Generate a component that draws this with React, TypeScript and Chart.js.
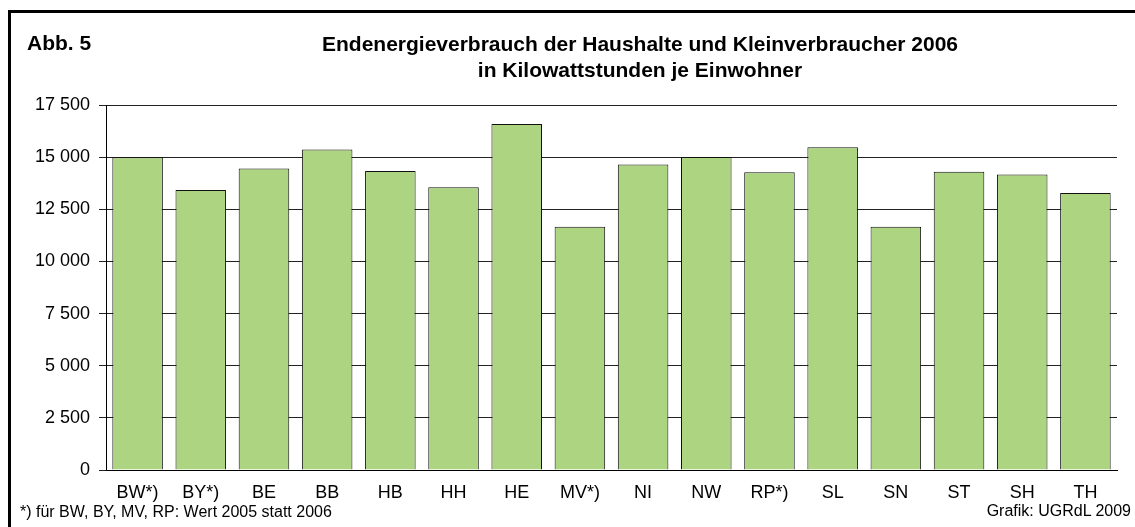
import React, { useEffect, useRef } from "react";
import { Chart, registerables } from "chart.js";

Chart.register(...registerables);

const categories = ["BW*)", "BY*)", "BE", "BB", "HB", "HH", "HE", "MV*)", "NI", "NW", "RP*)", "SL", "SN", "ST", "SH", "TH"];
const values = [15000, 13420, 14450, 15370, 14330, 13560, 16590, 11660, 14650, 15010, 14270, 15480, 11660, 14300, 14170, 13280];
const yTicks = [0, 2500, 5000, 7500, 10000, 12500, 15000, 17500];

const titleLine1 = "Endenergieverbrauch der Haushalte und Kleinverbraucher 2006";
const titleLine2 = "in Kilowattstunden je Einwohner";
const figLabel = "Abb. 5";
const footnote = "*) für BW, BY, MV, RP: Wert 2005 statt 2006";
const source = "Grafik: UGRdL 2009";

function fmt(n: number): string {
  if (n < 1000) return String(n);
  const th = Math.floor(n / 1000);
  const rest = String(n % 1000).padStart(3, "0");
  return th + " " + rest;
}

export default function App() {
  const ref = useRef<HTMLCanvasElement | null>(null);
  useEffect(() => {
    document.body.style.margin = "0";
    const canvas = ref.current;
    if (!canvas) return;
    const family = "Arial, 'Liberation Sans', sans-serif";
    const chart = new Chart(canvas, {
      type: "bar",
      data: {
        labels: categories,
        datasets: [
          {
            data: values,
            backgroundColor: "#add480",
            borderColor: "#111",
            borderWidth: 1,
            barPercentage: 0.8,
            categoryPercentage: 1,
          },
        ],
      },
      options: {
        responsive: false,
        animation: false,
        devicePixelRatio: 1,
        layout: { padding: { top: 105, right: 18, left: 0, bottom: 0 } },
        plugins: { legend: { display: false }, tooltip: { enabled: false }, title: { display: false } },
        scales: {
          y: {
            min: 0,
            max: 17500,
            afterBuildTicks: (scale: any) => {
              scale.ticks = yTicks.map((v) => ({ value: v }));
            },
            afterFit: (scale: any) => {
              scale.width = 106;
            },
            ticks: { color: "#000", font: { family, size: 18 }, padding: 9, callback: (v: any) => fmt(Number(v)) },
            grid: { color: "#222", lineWidth: 1, tickLength: 7, drawTicks: true },
            border: { display: true, color: "#000", width: 1 },
          },
          x: {
            afterFit: (scale: any) => {
              scale.height = 57;
            },
            ticks: { color: "#000", font: { family, size: 18 }, padding: 4, maxRotation: 0, autoSkip: false },
            grid: { display: false },
            border: { display: true, color: "#000", width: 1 },
          },
        },
      },
    } as any);
    return () => chart.destroy();
  }, []);

  const base: React.CSSProperties = { position: "absolute", fontFamily: "Arial, 'Liberation Sans', sans-serif", color: "#000", whiteSpace: "nowrap" };
  return (
    <div style={{ position: "fixed", left: 0, top: 0, width: 1135, height: 527, overflow: "hidden", background: "#fff" }}>
      <div style={{ position: "absolute", left: 8, top: 10, width: 1200, height: 600, borderTop: "3px solid #000", borderLeft: "3px solid #000" }} />
      <canvas ref={ref} width={1135} height={527} style={{ position: "absolute", left: 0, top: 0 }} />
      <div style={{ ...base, left: 27, top: 30, fontSize: 21, fontWeight: "bold", lineHeight: "26px" }}>{figLabel}</div>
      <div style={{ ...base, left: 0, width: 1280, top: 31, fontSize: 21, fontWeight: "bold", lineHeight: "26px", textAlign: "center" }}>
        <div>{titleLine1}</div>
        <div>{titleLine2}</div>
      </div>
      <div style={{ ...base, left: 20, top: 503, fontSize: 16, lineHeight: "18px" }}>{footnote}</div>
      <div style={{ ...base, right: 4, top: 502, fontSize: 16, lineHeight: "18px" }}>{source}</div>
    </div>
  );
}
